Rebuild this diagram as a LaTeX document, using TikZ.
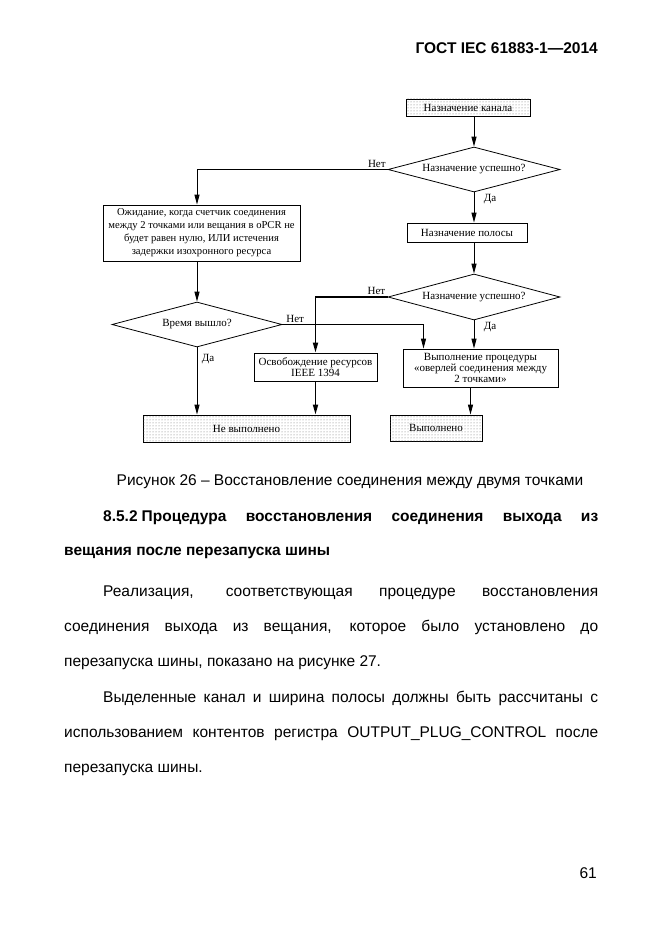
\documentclass[tikz,border=0pt]{standalone}
\usepackage{fontspec}
\setmainfont{Liberation Sans}
\newfontfamily\schemefont{Liberation Serif}
\usetikzlibrary{shapes.geometric,arrows.meta,shadows,patterns}

\begin{document}
\begin{tikzpicture}[x=1pt,y=-1pt]
		\tikzstyle{block}=[draw,line width=0.8pt,fill=white,inner sep=1pt,align=center,
			font=\schemefont\fontsize{11}{11}\selectfont,
			general shadow={fill=black,shadow xshift=1pt,shadow yshift=-1pt}]
		\tikzstyle{dotblock}=[block,postaction={pattern=dots,pattern color=black!55}]
		\tikzstyle{decision}=[diamond,draw,line width=0.8pt,aspect=3.8,inner sep=0pt,
			font=\schemefont\fontsize{11}{11}\selectfont]
		\tikzstyle{line}=[line width=0.9pt,-{Triangle[length=10pt,width=5pt]}]
		\tikzstyle{heavy line}=[line,line width=1.7pt]
		\tikzstyle{answer}=[font=\schemefont\fontsize{11}{11}\selectfont,inner sep=1.5pt]
		\tikzstyle{body}=[anchor=base west,inner sep=0pt,font=\fontsize{15.5}{18}\selectfont]
		\useasboundingbox (0,0) rectangle (661,936);
		% page text
		\node[body,anchor=base east] (head) at (598,54) {\bfseries ГОСТ IEC 61883-1—2014};
		% scheme
		\node[dotblock,minimum width=124pt,minimum height=17pt] (kanal) at (468,107.5) {Назначение канала};
		\node[decision,minimum width=172pt,minimum height=45pt] (ok1) at (474,169.5) {Назначение успешно?};
		\node[block,minimum width=120pt,minimum height=19pt] (polosa) at (467,232.5) {Назначение полосы};
		\node[decision,minimum width=172pt,minimum height=46pt] (ok2) at (474,297) {Назначение успешно?};
		\node[block,minimum width=197pt,minimum height=56pt,font=\schemefont\fontsize{10.6}{13}\selectfont] (ozhid) at (201.5,233)
			{Ожидание, когда счетчик соединения\\между 2 точками или вещания в oPCR не\\будет равен нулю, ИЛИ истечения\\задержки изохронного ресурса};
		\node[decision,minimum width=170pt,minimum height=45pt] (vremya) at (197,324.5) {Время вышло?};
		\node[block,minimum width=123pt,minimum height=28pt] (osvob) at (315.5,367) {Освобождение ресурсов\\IEEE 1394};
		\node[block,minimum width=155pt,minimum height=38pt] (overlay) at (480.5,368)
			{Выполнение процедуры\\«оверлей соединения между\\2 точками»};
		\node[dotblock,minimum width=92pt,minimum height=26pt] (done) at (436,428) {Выполнено};
		\node[dotblock,minimum width=207pt,minimum height=27pt] (fail) at (246.5,428.5) {Не выполнено};
		\draw[line] (kanal.south -| ok1.north) -- (ok1.north);
		\draw[line] (ok1.south) -- (ok1.south |- polosa.north)
			node[answer,at start,anchor=north west,xshift=8pt] {Да};
		\draw[line] (polosa.south -| ok2.north) -- (ok2.north);
		\draw[line] (ok1.west) -| (vremya.north |- ozhid.north)
			node[answer,at start,anchor=south east] {Нет};
		\draw[line] (ozhid.south -| vremya.north) -- (vremya.north);
		\draw[heavy line] (ok2.west) -| (osvob.north)
			node[answer,at start,anchor=south east] {Нет};
		\draw[line] (ok2.south) -- (ok2.south |- overlay.north)
			node[answer,at start,anchor=north west,xshift=8pt] {Да};
		\draw[line] (vremya.east) -| ([xshift=-57pt]overlay.north)
			node[answer,at start,anchor=south west,xshift=2pt] {Нет};
		\draw[line] ([xshift=-10pt]overlay.south) -- ([xshift=-10pt]overlay.south |- done.north);
		\draw[heavy line] (osvob.south) -- (osvob.south |- fail.north);
		\draw[line] (vremya.south) -- (vremya.south |- fail.north)
			node[answer,at start,anchor=north west,xshift=3pt,yshift=-5pt] {Да};
		% caption and text
		\node[body,anchor=base] (caption) at (350,485) {Рисунок 26 – Восстановление соединения между двумя точками};
		\node[body] (sec1) at (103,521) {\makebox[495pt][s]{\bfseries 8.5.2\hspace{4pt}Процедура восстановления соединения выхода из}};
		\node[body] (sec2) at (64,555) {\bfseries вещания после перезапуска шины};
		\node[body] (p1) at (103,596) {\makebox[495pt][s]{Реализация, соответствующая процедуре восстановления}};
		\node[body] (p2) at (64,631) {\makebox[534pt][s]{соединения выхода из вещания, которое было установлено до}};
		\node[body] (p3) at (64,666) {перезапуска шины, показано на рисунке 27.};
		\node[body] (q1) at (103,702) {\makebox[495pt][s]{Выделенные канал и ширина полосы должны быть рассчитаны с}};
		\node[body] (q2) at (64,737) {\makebox[534pt][s]{использованием контентов регистра OUTPUT\_PLUG\_CONTROL после}};
		\node[body] (q3) at (64,772) {перезапуска шины.};
		\node[body,anchor=base east] (page) at (597,878) {61};
\end{tikzpicture}
\end{document}
